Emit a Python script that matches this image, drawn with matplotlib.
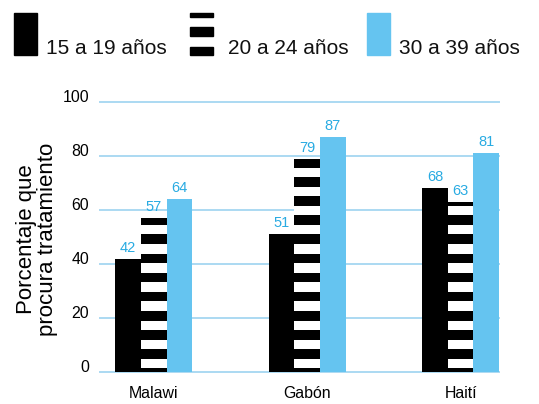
import numpy as np
import matplotlib.pyplot as plt
from matplotlib.patches import Rectangle
from matplotlib import font_manager

countries = ['Malawi', 'Gabón', 'Haití']
groups = ['15 a 19 años', '20 a 24 años', '30 a 39 años']
v15 = [42, 51, 68]
v20 = [57, 79, 63]
v30 = [64, 87, 81]
yticks = [0, 20, 40, 60, 80, 100]

names = [f.name for f in font_manager.fontManager.ttflist]
narrow = 'Liberation Sans Narrow' if 'Liberation Sans Narrow' in names else 'Liberation Sans'
nsize = 1.0 if narrow == 'Liberation Sans Narrow' else 0.88

blue = '#65C4F0'
txtblue = '#29ABE2'
gridc = '#ABD9F2'

fig = plt.figure(figsize=(5.39, 4.04), dpi=100)
ax = fig.add_axes([100/539, 1-372/404, 399/539, (372-99.3)/404])

x = np.arange(len(countries))
w = 0.167

# stripes for the middle series
period = 7.08
black_h = 3.6
first_top = 1.4

def striped_bar(xc, value):
    ax.bar(xc, value, w, color='white', edgecolor='none', zorder=2)
    k = 0
    while True:
        top = first_top + period*k
        bot = top - black_h
        if bot >= value:
            break
        lo = max(bot, 0)
        hi = min(top, value)
        ax.bar(xc, hi-lo, w, bottom=lo, color='black', edgecolor='none', zorder=3)
        k += 1

ax.bar(x - w, v15, w, color='black', edgecolor='none', zorder=2)
for xi, v in zip(x, v20):
    striped_bar(xi, v)
ax.bar(x + w, v30, w, color=blue, edgecolor='none', zorder=2)

for off, vals in [(-w, v15), (0, v20), (w, v30)]:
    for xi, v in zip(x, vals):
        ax.text(xi + off, v + 1.5, str(v), ha='center', va='bottom', color=txtblue,
                fontsize=12*nsize, family=narrow)

for t in yticks:
    ax.axhline(t, color=gridc, lw=1.4, zorder=1, clip_on=False)

ax.set_xlim(-0.35, 2.25)
ax.set_ylim(0, 101)
ax.set_yticks(yticks)
ax.set_yticklabels([str(t) for t in yticks], family=narrow, fontsize=13*nsize, va='baseline')
ax.set_xticks(x)
ax.set_xticklabels(countries, family=narrow, fontsize=13*nsize)
ax.tick_params(axis='y', length=0, pad=8)
ax.tick_params(axis='x', length=0, pad=10)
for s in ax.spines.values():
    s.set_visible(False)

fig.text(37/539, 1-239/404, 'Porcentaje que\nprocura tratamiento', rotation=90,
         ha='center', va='center', fontsize=16, family='Liberation Sans', linespacing=1.05)

# legend
lg = fig.add_axes([0, 0, 1, 1], zorder=-1)
lg.set_xlim(0, 539)
lg.set_ylim(404, 0)
lg.axis('off')
lg.add_patch(Rectangle((14, 13), 23, 42, color='black'))
for y0, y1 in [(13, 17.3), (27, 36), (46.7, 55)]:
    lg.add_patch(Rectangle((190, y0), 23, y1-y0, color='black'))
lg.add_patch(Rectangle((366.5, 13), 23, 42, color=blue))
for xt, lab in zip([46, 228, 399], groups):
    lg.text(xt, 54.5, lab, fontsize=15, family='Liberation Sans', va='baseline', color='#111111')

fig.savefig('out.png', dpi=100)
